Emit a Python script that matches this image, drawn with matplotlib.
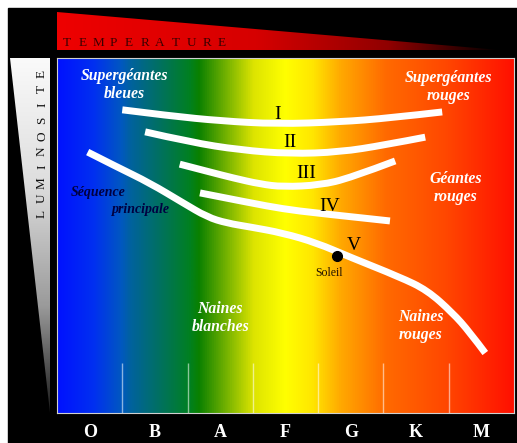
import matplotlib
matplotlib.use('Agg')
import matplotlib.pyplot as plt
import numpy as np
from matplotlib.colors import LinearSegmentedColormap
from matplotlib.patches import Polygon, Rectangle, PathPatch
from matplotlib.path import Path

plt.rcParams['font.family'] = ['Liberation Serif', 'DejaVu Serif']

# spectral classes along x (one unit per class)
classes = ['O', 'B', 'A', 'F', 'G', 'K', 'M']

# luminosity classes, x = spectral position, y = luminosity (0 bottom .. 100 top)
lum_I_x = [1.00, 1.73, 2.50, 3.37, 4.33, 5.10, 5.90]
lum_I_y = [85.4, 83.7, 82.3, 81.4, 82.0, 83.1, 84.8]
lum_II_x = [1.35, 2.04, 2.80, 3.57, 4.33, 5.02, 5.64]
lum_II_y = [79.2, 76.3, 74.1, 73.0, 73.5, 75.5, 77.7]
lum_III_x = [1.88, 2.34, 2.70, 3.11, 3.46, 4.03, 4.49, 5.18]
lum_III_y = [70.1, 67.9, 66.2, 64.5, 63.7, 64.2, 66.2, 71.0]
lum_IV_x = [2.19, 2.96, 3.46, 3.98, 5.10]
lum_IV_y = [62.0, 59.2, 57.5, 56.3, 54.1]
# main sequence (V)
lum_V_x = [0.47, 0.92, 1.42, 1.93, 2.30, 2.60, 2.96, 3.46, 3.98, 4.49,
           5.25, 5.67, 6.06, 6.32, 6.56]
lum_V_y = [73.5, 69.3, 64.8, 59.2, 55.2, 53.5, 52.4, 50.7, 47.9, 43.9,
           38.3, 34.6, 28.2, 22.8, 16.9]

roman = ['I', 'II', 'III', 'IV', 'V']
roman_x = [3.38, 3.57, 3.81, 4.17, 4.55]
roman_y = [84.2, 76.1, 67.6, 58.3, 47.3]

sun_x, sun_y = 4.29, 44.2

regions = ['Supergéantes\nbleues', 'Supergéantes\nrouges', 'Géantes\nrouges',
           'Naines\nrouges', 'Naines\nblanches']
region_x = [1.03, 5.99, 6.11, 5.57, 2.50]
region_y = [92.4, 91.8, 63.4, 24.5, 26.8]


def smooth_path(xs, ys):
    # quadratic bezier through midpoints, read points act as control points
    pts = list(zip(xs, ys))
    verts = [pts[0]]
    codes = [Path.MOVETO]
    for i in range(1, len(pts) - 1):
        mid = ((pts[i][0] + pts[i + 1][0]) / 2, (pts[i][1] + pts[i + 1][1]) / 2)
        if i == len(pts) - 2:
            mid = pts[-1]
        verts += [pts[i], mid]
        codes += [Path.CURVE3, Path.CURVE3]
    return Path(verts, codes)


fig = plt.figure(figsize=(5.17, 4.43), dpi=100, facecolor='white')

# background in pixel coordinates
bg = fig.add_axes([0, 0, 1, 1])
bg.add_patch(Rectangle((8, 8), 509, 435, color='black', zorder=-5))

temp_cmap = LinearSegmentedColormap.from_list(
    'temp', [(0, '#ee0000'), (0.45, '#d60000'), (0.75, '#900000'), (1, '#000000')])
im = bg.imshow(np.linspace(0, 1, 256).reshape(1, -1), cmap=temp_cmap,
               extent=[57, 500, 50, 12], aspect='auto', zorder=1)
tri = Polygon([(57, 12), (57, 50), (500, 50)], closed=True,
              facecolor='none', edgecolor='none')
bg.add_patch(tri)
im.set_clip_path(tri)
for i, ch in enumerate('TEMPERATURE'):
    bg.text(67 + i * 15.5, 43, ch, color='#3a0000', fontsize=9.5,
            ha='center', va='center', zorder=3)

lum_cmap = LinearSegmentedColormap.from_list(
    'lum', [(0, '#fafafa'), (0.35, '#dedede'), (0.7, '#9a9a9a'), (1, '#1a1a1a')])
im2 = bg.imshow(np.linspace(0, 1, 256).reshape(-1, 1), cmap=lum_cmap,
                extent=[10, 50, 413, 58], aspect='auto', zorder=1)
tri2 = Polygon([(10, 58), (50, 58), (50, 413)], closed=True,
               facecolor='none', edgecolor='none')
bg.add_patch(tri2)
im2.set_clip_path(tri2)
for i, ch in enumerate('LUMINOSITE'):
    bg.text(42, 214 - i * 15.6, ch, color='#101010', fontsize=9.5,
            rotation=90, ha='center', va='center', zorder=3)

bg.set_xlim(0, 517)
bg.set_ylim(443, 0)
bg.axis('off')

# main diagram
ax = fig.add_axes([57 / 517, 30 / 443, 457 / 517, 355 / 443])
spec_cmap = LinearSegmentedColormap.from_list('spec', [
    (0.0, '#0011ff'), (0.08, '#0030f0'), (0.14, '#0058c0'), (0.16, '#00629e'),
    (0.29, '#008020'), (0.31, '#0a8000'), (0.43, '#dde400'), (0.50, '#ffff00'),
    (0.56, '#ffe600'), (0.62, '#ffaa00'), (0.72, '#ff6a00'), (0.85, '#ff4800'),
    (1.0, '#ff1000')])
ax.imshow(np.linspace(0, 1, 512).reshape(1, -1), cmap=spec_cmap,
          extent=[0, 7, 0, 100], aspect='auto')

ax.vlines(range(1, 7), 0, 14, colors='white', alpha=0.55, lw=1)

for xs, ys in [(lum_I_x, lum_I_y), (lum_II_x, lum_II_y), (lum_III_x, lum_III_y),
               (lum_IV_x, lum_IV_y), (lum_V_x, lum_V_y)]:
    ax.add_patch(PathPatch(smooth_path(xs, ys), facecolor='none',
                           edgecolor='white', lw=5, capstyle='butt',
                           joinstyle='round', zorder=3))

ax.plot(sun_x, sun_y, 'o', color='black', ms=7, zorder=4)
ax.text(sun_x - 0.12, sun_y - 4.8, 'Soleil', color='#201000', fontsize=8.5,
        ha='center', va='center')

for lab, x, y in zip(roman, roman_x, roman_y):
    ax.text(x, y, lab, color='black', fontsize=14, ha='center', va='center',
            zorder=5)

for lab, x, y in zip(regions, region_x, region_y):
    ax.text(x, y, lab, color='white', fontsize=11.3, fontweight='bold',
            fontstyle='italic', ha='center', va='center', linespacing=1.15)

ax.text(0.63, 62.0, 'Séquence', color='#000040', fontsize=10,
        fontweight='bold', fontstyle='italic', ha='center', va='center')
ax.text(1.29, 57.2, 'principale', color='#000040', fontsize=10,
        fontweight='bold', fontstyle='italic', ha='center', va='center')

ax.set_xlim(0, 7)
ax.set_ylim(0, 100)
ax.set_xticks(np.arange(7) + 0.5, classes)
ax.set_yticks([])
ax.tick_params(length=0, pad=8, labelcolor='white', labelsize=13)
for t in ax.get_xticklabels():
    t.set_fontweight('bold')
for s in ax.spines.values():
    s.set_color('#d0d0d0')
    s.set_linewidth(0.8)

fig.savefig('out.png', dpi=100, facecolor=fig.get_facecolor())
